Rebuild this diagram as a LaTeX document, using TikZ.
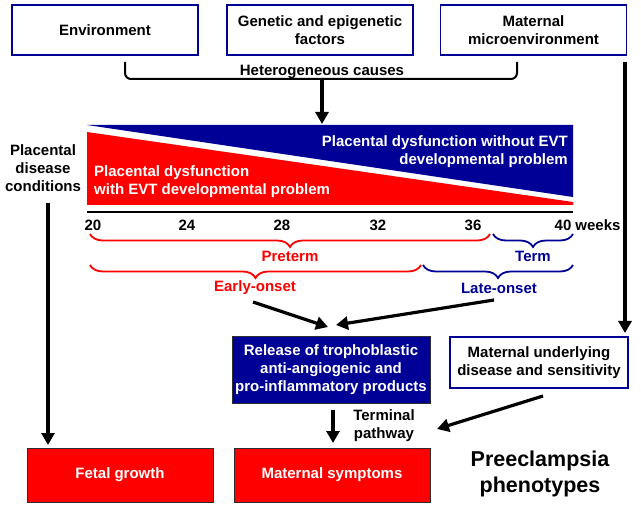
\documentclass[tikz,border=0pt]{standalone}
\usepackage{fontspec}
\setmainfont{Liberation Sans}
\usetikzlibrary{arrows.meta,decorations.pathreplacing,calc}
\definecolor{navy}{RGB}{0,0,150}
\definecolor{pred}{RGB}{255,0,0}
\definecolor{bord}{RGB}{45,45,45}
\begin{document}
\begin{tikzpicture}[x=1pt,y=-1pt,
  font=\bfseries\fontsize{15}{18}\selectfont,
  topbox/.style={draw=navy, line width=1.3pt, minimum width=186pt, minimum height=50pt, align=center, inner sep=0pt},
  arr/.style={line width=3.2pt, -{Triangle[length=12pt,width=13pt]}},
  bracemark/.style={decorate, decoration={brace, mirror, amplitude=13pt}, line width=1.8pt},
  txt/.style={align=center, inner sep=0pt}
]
\useasboundingbox (0,0) rectangle (641,508);

% top boxes
\node[topbox] (env) at (105,30) {Environment};
\node[topbox] (gen) at (320,30) {Genetic and epigenetic\\factors};
\node[topbox] (mic) at (533.5,30) {Maternal\\microenvironment};
\node[txt] (het) at (322,72) {Heterogeneous causes};

% bracket
\coordinate (bl) at (125,62);
\coordinate (br) at (517,62);
\coordinate (bc) at (322,79);
\coordinate (tt) at (322,124);
\draw[line width=2pt, rounded corners=6pt] (bl) -- (125,79) -- (517,79) -- (br);
\draw[arr] (bc) -- (tt);

% triangles
\fill[navy] (87,125) -- (573,125) -- (573,197) -- cycle;
\fill[pred] (87,132) -- (573,202) -- (573,205) -- (87,205) -- cycle;
\node[txt, anchor=east, align=right, text=white] (blue) at (568,152) {Placental dysfunction without EVT\\developmental problem};
\node[txt, anchor=west, align=left, text=white] (red) at (94,182) {Placental dysfunction\\with EVT developmental problem};

\node[txt] (pdc) at (43,168) {Placental\\disease\\conditions};

% axis
\draw[line width=2.5pt] (87,212) -- (573,212);
\foreach \w/\xx in {20/93,24/187,28/282,32/378,36/473,40/563}{
  \node[txt] (w\w) at (\xx,225) {\w};
}
\node[txt] (weeks) at (598,225) {weeks};

% braces
\draw[bracemark, pred] (90,234) -- (490,234);
\draw[bracemark, navy] (493,234) -- (573,234);
\draw[bracemark, pred] (90,265) -- (421,265);
\draw[bracemark, navy] (423,265) -- (573,265);
\node[txt, text=pred] (pre) at (290,256) {Preterm};
\node[txt, text=navy] (term) at (533,256) {Term};
\node[txt, text=pred] (early) at (255,288) {Early-onset};
\node[txt, text=navy] (late) at (499,288) {Late-onset};

% middle boxes
\node[draw=bord, line width=1pt, fill=navy, text=white, minimum width=198pt, minimum height=66pt, txt] (rel) at (331,370) {Release of trophoblastic\\anti-angiogenic and\\pro-inflammatory products};
\node[draw=navy, line width=1.3pt, minimum width=178pt, minimum height=51pt, txt] (mud) at (539,362.5) {Maternal underlying\\disease and sensitivity};

% bottom boxes
\node[draw=bord, line width=1pt, fill=pred, text=white, minimum width=186pt, minimum height=54pt, txt] (fet) at (120,475) {Fetal growth};
\node[draw=bord, line width=1pt, fill=pred, text=white, minimum width=196pt, minimum height=54pt, txt] (ms) at (332,475) {Maternal symptoms};
\node[txt] (term2) at (384,426) {Terminal\\pathway};
\node[txt, font=\bfseries\fontsize{21.5}{26}\selectfont] (pp) at (540,474) {Preeclampsia\\phenotypes};

% connectors
\coordinate (ea) at (253,302);
\coordinate (ee) at (328,327);
\coordinate (la) at (494,300);
\coordinate (le) at (336,325);
\draw[arr] (ea) -- (ee);
\draw[arr] (la) -- (le);
\coordinate (ra) at (625,62);
\coordinate (re) at (625,333);
\draw[arr] (ra) -- (re);
\coordinate (pa) at (48,203);
\coordinate (pe) at (48,445);
\draw[arr] (pa) -- (pe);
\coordinate (ta) at (333,410);
\coordinate (te) at (333,443);
\draw[arr] (ta) -- (te);
\coordinate (ma) at (543,396);
\coordinate (me) at (437,429);
\draw[arr] (ma) -- (me);
\end{tikzpicture}
\end{document}
